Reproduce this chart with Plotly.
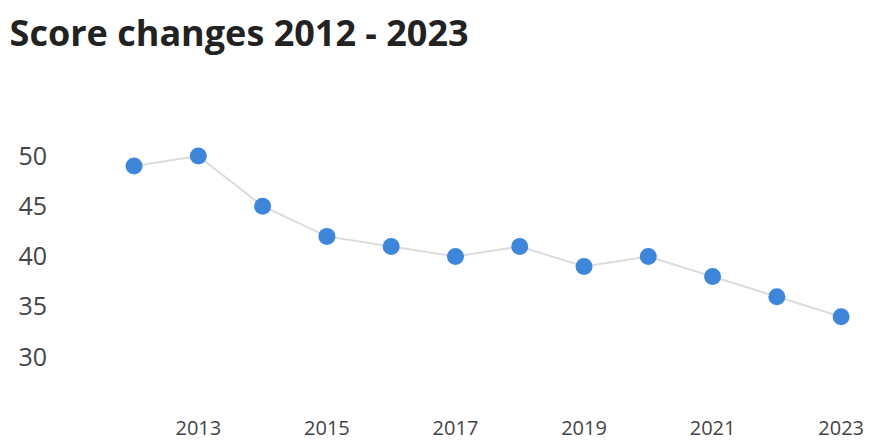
import plotly.graph_objects as go

years = [2012, 2013, 2014, 2015, 2016, 2017, 2018, 2019, 2020, 2021, 2022, 2023]
scores = [49, 50, 45, 42, 41, 40, 41, 39, 40, 38, 36, 34]
x_ticks = [2013, 2015, 2017, 2019, 2021, 2023]
y_ticks = [30, 35, 40, 45, 50]

fig = go.Figure(
    go.Scatter(
        x=years,
        y=scores,
        mode="lines+markers",
        line=dict(color="#dcdcdc", width=2),
        marker=dict(color="#3d86d9", size=17),
        hoverinfo="x+y",
    )
)

fig.update_layout(
    width=874,
    height=443,
    margin=dict(l=58, r=20, t=100, b=40),
    paper_bgcolor="white",
    plot_bgcolor="white",
    showlegend=False,
    font=dict(family="Open Sans", color="#444444", size=18),
    title=dict(
        text="<b>Score changes 2012 - 2023</b>",
        x=0.011,
        xanchor="left",
        y=0.925,
        yanchor="middle",
        font=dict(family="Open Sans", size=36, color="#222222"),
    ),
    xaxis=dict(
        range=[2010.817, 2023.2],
        tickvals=x_ticks,
        showgrid=False,
        zeroline=False,
        showline=False,
        ticks="",
        automargin=False,
        ticklabelstandoff=11,
        tickfont=dict(family="Open Sans", size=20, color="#444444"),
    ),
    yaxis=dict(
        range=[25.42, 55.57],
        tickvals=y_ticks,
        showgrid=False,
        zeroline=False,
        showline=False,
        ticks="",
        automargin=False,
        ticklabelstandoff=10,
        tickfont=dict(family="Open Sans", size=25, color="#444444"),
    ),
)

fig.write_html("out.html")
